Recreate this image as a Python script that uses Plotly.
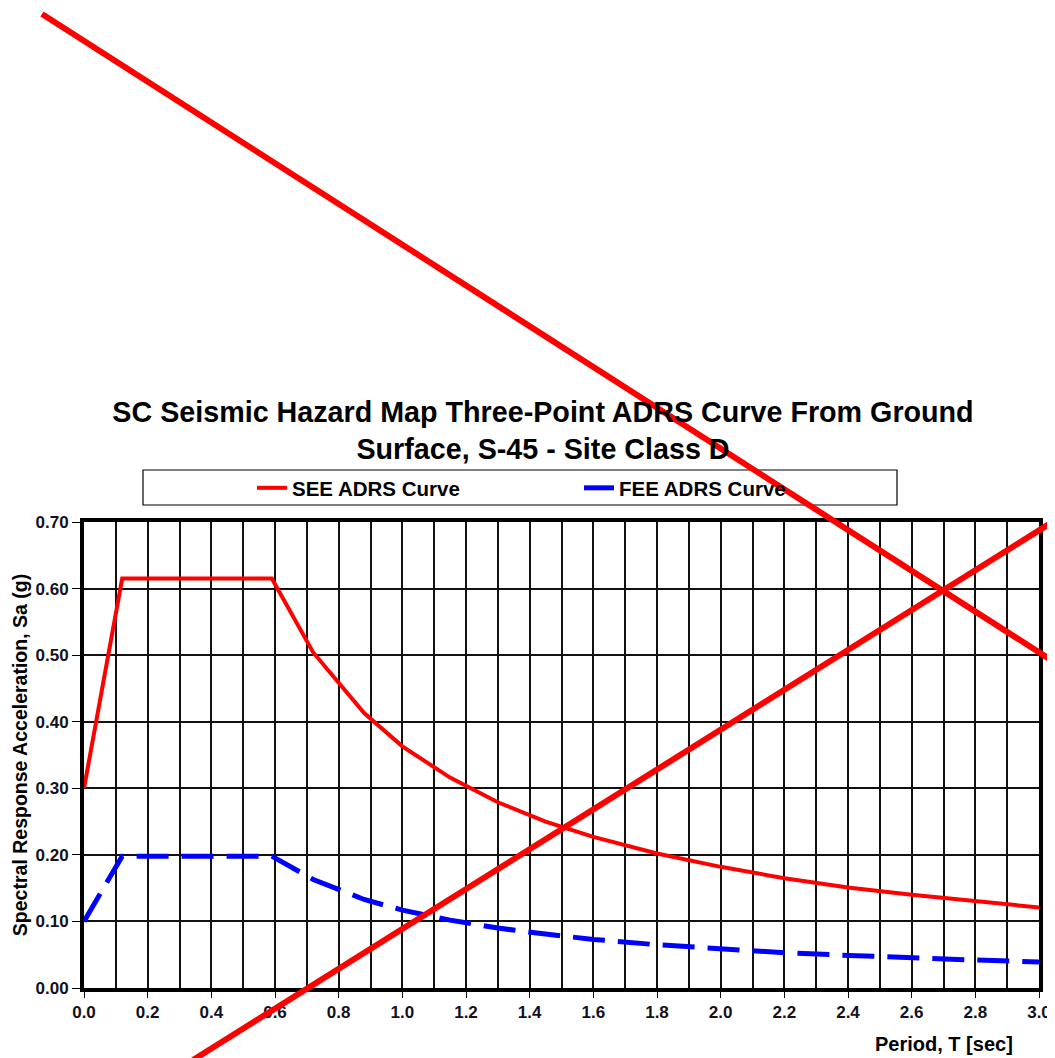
import plotly.graph_objects as go

period = [0.0, 0.12, 0.59, 0.72, 0.88, 1.0, 1.15, 1.3, 1.45, 1.6, 1.8, 2.0, 2.2, 2.4, 2.6, 2.8, 3.0]
see_sa = [0.30, 0.615, 0.615, 0.504, 0.413, 0.363, 0.316, 0.279, 0.250, 0.227, 0.202, 0.182, 0.165, 0.151, 0.140, 0.130, 0.121]
fee_sa = [0.10, 0.198, 0.198, 0.163, 0.133, 0.117, 0.102, 0.090, 0.081, 0.073, 0.065, 0.059, 0.053, 0.049, 0.045, 0.042, 0.039]

title_text = "SC Seismic Hazard Map Three-Point ADRS Curve From Ground<br>Surface, S-45 - Site Class D"
x_title = "Period, T [sec]"
y_title = "Spectral Response Acceleration, Sa (g)"

FONT = "Liberation Sans, Arial, sans-serif"

# page offset (browser body margin)
OFF = 8
W, H = 1055, 1058
# plot area in screen pixels
SX0, SX1, SY0, SY1 = 84, 1039, 522, 988
L = SX0 - OFF
T = SY0 - OFF
R = W - (SX1 - OFF)
B = H - (SY1 - OFF)
pw = SX1 - SX0
ph = SY1 - SY0


def px(xs):
    return (xs - SX0) / pw


def py(ys):
    return (SY1 - ys) / ph


fig = go.Figure()
fig.add_trace(go.Scatter(x=period, y=see_sa, mode="lines", name="SEE ADRS Curve",
                         line=dict(color="#ff0000", width=4)))
fig.add_trace(go.Scatter(x=period, y=fee_sa, mode="lines", name="FEE ADRS Curve",
                         line=dict(color="#0000ff", width=5, dash="32px,13px")))

fig.update_layout(
    width=W, height=H,
    margin=dict(l=L, r=R, t=T, b=B, autoexpand=False),
    paper_bgcolor="white", plot_bgcolor="white",
    font=dict(family=FONT, color="black"),
    title=dict(text=title_text, x=px(543), xref="paper", xanchor="center",
               y=1 - (422 - OFF) / H, yref="container", yanchor="middle",
               font=dict(family=FONT, size=28.7, weight="bold", color="black")),
    showlegend=True,
    legend=dict(orientation="h", x=px(252), xanchor="left",
                y=py(488), yanchor="middle",
                bgcolor="rgba(0,0,0,0)", borderwidth=0,
                font=dict(family=FONT, size=20.5, weight="bold", color="black"),
                entrywidth=282, entrywidthmode="pixels"),
    xaxis=dict(range=[0, 3.0], dtick=0.2, tick0=0, tickformat=".1f", automargin=False,
               showgrid=True, gridcolor="#111111", gridwidth=1.5,
               minor=dict(dtick=0.1, tick0=0, showgrid=True, gridcolor="#111111", gridwidth=1.5),
               showline=True, linecolor="black", linewidth=4, mirror=True,
               ticks="outside", ticklen=6, tickcolor="black", zeroline=False,
               tickfont=dict(family=FONT, size=17, weight="bold", color="#111122")),
    yaxis=dict(range=[0, 0.70], dtick=0.1, tick0=0, tickformat=".2f", automargin=False,
               showgrid=True, gridcolor="#111111", gridwidth=1.5,
               showline=True, linecolor="black", linewidth=4, mirror=True,
               ticks="outside", ticklen=8, tickcolor="black", zeroline=False,
               title=dict(text=y_title, standoff=4,
                          font=dict(family=FONT, size=19.5, weight="bold", color="black")),
               tickfont=dict(family=FONT, size=17, weight="bold", color="#111122")),
)

# legend box
fig.add_shape(type="rect", xref="paper", yref="paper",
              x0=px(143), x1=px(897), y0=py(505), y1=py(470),
              line=dict(color="black", width=1.2), fillcolor="rgba(0,0,0,0)", layer="below")

fig.add_annotation(text=x_title, xref="paper", yref="paper",
                   x=px(1015), y=py(1044), xanchor="right", yanchor="middle",
                   showarrow=False,
                   font=dict(family=FONT, size=20, weight="bold", color="black"))

# red cross-out strokes drawn over the chart
fig.add_shape(type="line", xref="paper", yref="paper",
              x0=px(42), y0=py(14), x1=px(1062), y1=py(667),
              line=dict(color="#ff0000", width=6))
fig.add_shape(type="line", xref="paper", yref="paper",
              x0=px(193), y0=py(1060), x1=px(1062), y1=py(516),
              line=dict(color="#ff0000", width=6))

fig.write_html("out.html")
